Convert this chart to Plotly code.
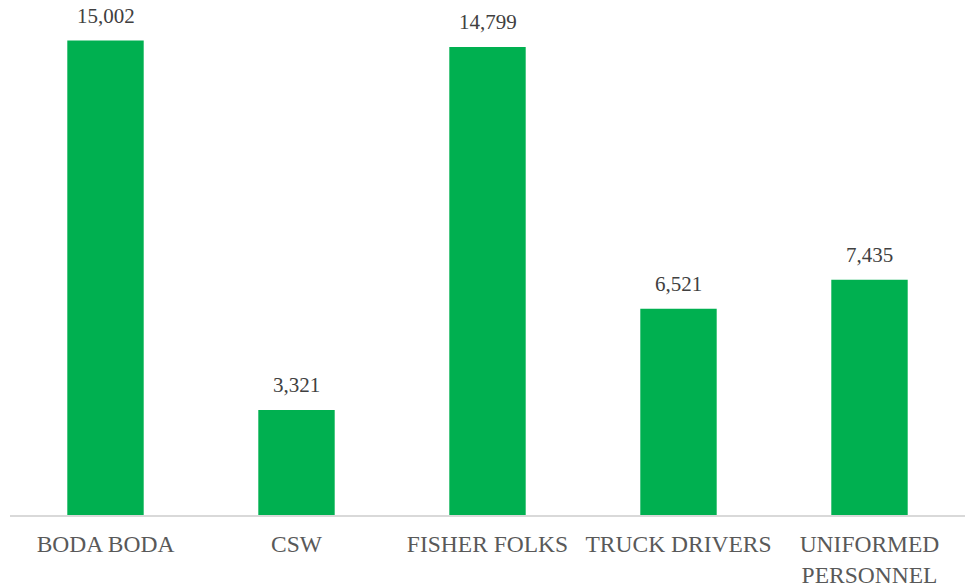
import plotly.graph_objects as go

# Counts per key population group
categories = ["BODA BODA", "CSW", "FISHER FOLKS", "TRUCK DRIVERS", "UNIFORMED<br>PERSONNEL"]
values = [15002, 3321, 14799, 6521, 7435]

bar_color = "#00B050"
serif = "Times New Roman, Liberation Serif, serif"

fig = go.Figure()
fig.add_trace(go.Bar(
    x=categories,
    y=values,
    marker=dict(color=bar_color, line=dict(width=0)),
    hoverinfo="skip",
))

# Value labels above each bar
for cat, val in zip(categories, values):
    fig.add_annotation(
        x=cat, y=val, text=f"{val:,}", showarrow=False,
        yanchor="bottom", yshift=11,
        font=dict(family=serif, size=21, color="#404040"),
    )

fig.update_layout(
    width=965, height=588,
    margin=dict(l=10, r=0, t=9, b=73),
    paper_bgcolor="white", plot_bgcolor="white",
    bargap=0.6,
    showlegend=False,
    xaxis=dict(
        showline=True, linecolor="#D9D9D9", linewidth=1.5,
        showgrid=False, ticks="", ticklabelstandoff=7,
        tickfont=dict(family=serif, size=23.5, color="#595959"),
    ),
    yaxis=dict(
        range=[0, 16000], visible=False, showgrid=False, zeroline=False,
    ),
)

fig.write_html("out.html")
